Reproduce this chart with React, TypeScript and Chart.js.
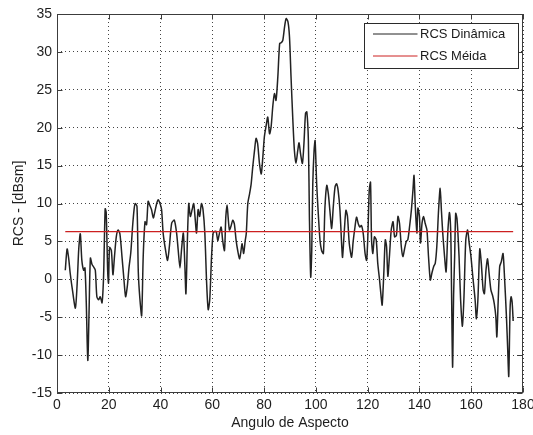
import React, { useEffect, useRef } from "react";
import { Chart, registerables } from "chart.js";

Chart.register(...registerables);

// Aspect angle (degrees) and dynamic RCS (dBsm)
const angles = [
  3.2, 3.9, 4.5, 5.1, 6.0, 7.1, 7.8, 8.4, 9.0, 9.6, 10.3, 10.8, 11.3, 11.9, 12.4, 12.9, 13.5, 14.2, 14.8, 15.4,
  16.1, 16.7, 17.4, 18.0, 18.6, 19.0, 19.6, 19.9, 20.3, 21.0, 21.6, 22.2, 22.9, 23.6, 24.3, 25.1, 25.8, 26.5, 27.2, 27.8,
  28.5, 29.2, 29.8, 30.2, 30.9, 31.4, 32.0, 32.7, 33.3, 34.0, 34.6, 35.2, 35.8, 36.5, 37.2, 37.8, 38.5, 39.1, 39.8, 40.4,
  41.0, 41.9, 42.7, 43.4, 44.3, 45.3, 46.2, 46.8, 47.5, 48.1, 48.8, 49.4, 49.8, 50.4, 50.9, 51.5, 52.2, 52.8, 53.3, 53.9,
  54.5, 55.1, 55.8, 56.4, 57.1, 57.8, 58.4, 59.0, 59.7, 60.3, 60.9, 61.5, 62.1, 62.7, 63.4, 64.0, 64.7, 65.2, 65.7, 66.1,
  66.6, 67.2, 67.9, 68.5, 69.2, 69.8, 70.5, 71.0, 71.5, 72.1, 72.7, 73.1, 73.7, 74.4, 75.0, 75.6, 76.3, 76.9, 77.5, 78.2,
  78.9, 79.5, 80.1, 80.8, 81.4, 82.1, 82.7, 83.4, 84.0, 84.6, 85.3, 86.0, 86.6, 87.2, 87.9, 88.5, 89.2, 89.8, 90.4, 91.1,
  91.7, 92.3, 93.0, 93.5, 94.1, 94.8, 95.4, 96.0, 96.5, 97.1, 97.5, 98.0, 98.4, 98.8, 99.3, 99.7, 100.3, 101.0, 101.6, 102.2,
  102.9, 103.5, 104.2, 104.8, 105.4, 106.1, 106.7, 107.4, 108.0, 108.6, 109.3, 110.0, 110.3, 111.0, 111.6, 112.2, 112.9, 113.8, 114.4, 115.1,
  115.7, 116.4, 117.0, 117.6, 118.3, 119.0, 119.6, 120.1, 120.6, 121.1, 121.5, 122.0, 122.6, 123.3, 123.9, 124.6, 125.2, 125.6, 126.2, 126.8,
  127.3, 127.8, 128.4, 129.1, 129.8, 130.4, 131.1, 131.7, 132.3, 133.0, 133.6, 134.2, 134.9, 135.5, 136.2, 136.9, 137.5, 137.9, 138.4, 139.0,
  139.4, 140.0, 140.4, 141.0, 141.6, 142.2, 142.9, 143.5, 144.2, 144.8, 145.5, 146.1, 146.7, 147.4, 148.0, 148.5, 149.0, 149.7, 150.3, 151.0,
  151.6, 152.1, 152.4, 152.8, 153.2, 153.6, 154.0, 154.5, 155.3, 155.9, 156.6, 157.2, 157.9, 158.6, 159.2, 159.9, 160.6, 161.5, 162.0, 162.6,
  163.3, 163.9, 164.6, 165.1, 165.7, 166.3, 166.9, 167.6, 168.3, 168.9, 169.5, 169.9, 170.4, 171.0, 171.6, 172.3, 172.9, 173.6, 174.1, 174.5,
  175.0, 175.4, 175.8, 176.2,
];

const rcsDinamica = [
  1.2, 4.0, 2.8, 0.8, -1.5, -3.8, -0.5, 4.0, 6.0, 2.5, 1.2, 1.5, -3.0, -10.7, -4.0, 2.8, 2.0, 1.6, 1.2, -2.3,
  -2.7, -2.3, -3.1, 0.5, 9.3, 8.8, 0.8, -0.5, 4.2, 3.8, 0.6, 3.0, 5.6, 6.5, 6.0, 3.0, 0.2, -2.3, -0.8, 1.5,
  3.5, 7.0, 9.3, 10.0, 9.6, 1.0, -2.5, -4.8, 3.0, 7.6, 7.2, 10.3, 9.8, 9.2, 8.1, 8.9, 10.0, 10.5, 10.0, 9.2,
  6.1, 3.9, 2.5, 4.3, 7.4, 7.8, 6.1, 3.9, 1.5, 3.9, 6.1, 1.7, -1.9, 5.6, 10.0, 8.3, 9.2, 10.0, 8.3, 6.1,
  9.2, 8.3, 10.0, 9.2, 6.1, -0.5, -4.0, -2.7, 3.0, 6.1, 6.3, 6.3, 5.1, 6.0, 6.9, 5.1, 3.8, 8.2, 9.8, 8.2,
  6.5, 7.0, 7.8, 7.3, 5.1, 3.8, 2.7, 3.6, 4.7, 3.4, 5.1, 6.0, 10.0, 11.3, 12.6, 14.8, 17.0, 18.6, 17.9, 15.3,
  13.9, 16.1, 18.8, 20.3, 21.4, 19.2, 20.1, 23.0, 24.5, 23.6, 26.7, 31.1, 31.2, 31.5, 33.3, 34.4, 34.0, 32.0, 26.7, 21.0,
  17.0, 15.3, 17.0, 18.0, 16.5, 15.3, 18.0, 21.9, 22.1, 18.3, 8.2, 0.3, 3.8, 12.6, 17.0, 18.3, 12.6, 8.2, 5.1, 3.8,
  3.4, 9.5, 12.4, 11.3, 9.1, 6.7, 9.5, 12.2, 12.6, 11.7, 9.1, 4.3, 2.9, 6.5, 9.1, 8.3, 4.7, 2.9, 5.0, 6.9,
  8.2, 7.3, 6.9, 7.1, 6.0, 3.4, 2.5, 6.0, 11.7, 12.8, 5.2, 3.4, 5.6, 5.2, 2.1, -0.1, -2.3, -3.4, 0.5, 5.2,
  4.3, 0.4, 3.0, 6.5, 7.6, 5.6, 5.8, 8.3, 7.4, 4.3, 3.0, 3.9, 5.0, 5.2, 7.0, 9.2, 11.8, 13.7, 9.6, 6.1,
  9.4, 8.3, 4.8, 7.4, 8.3, 7.4, 6.5, 3.0, -0.1, 0.8, 1.7, 2.1, 4.3, 9.2, 12.0, 9.0, 6.1, 3.0, 1.0, 6.5,
  8.8, 6.0, -1.4, -11.6, -2.0, 3.0, 8.7, 8.0, 3.0, -2.7, -6.2, -2.3, 5.2, 6.5, 4.8, 3.0, 0.4, -2.7, -5.2, -2.5,
  4.0, 2.1, -1.4, -1.9, 1.2, 2.7, 0.8, -1.4, -2.2, -3.2, -4.9, -7.6, -3.0, 1.7, 2.3, 3.4, 0.0, -4.9, -9.3, -12.8,
  -4.0, -2.3, -3.0, -5.5,
];

// Mean RCS level (dBsm)
const rcsMedia = 6.3;

const seriesLabels = ["RCS Dinâmica", "RCS Méida"];
const xTitle = "Angulo de Aspecto";
const yTitle = "RCS - [dBsm]";

const FONT = "'Liberation Sans', Arial, Helvetica, sans-serif";
const BLACK_LINE = "#222222";
const RED_LINE = "#cc2020";

// Box around the axes, inward tick marks and a boxed legend in the upper right
const axesDecor = {
  id: "axesDecor",
  afterDraw(chart: any) {
    const { ctx, chartArea, scales } = chart;
    const { left, right, top, bottom } = chartArea;
    const xs = scales.x;
    const ys = scales.y;
    ctx.save();
    ctx.strokeStyle = "#3c3c3c";
    ctx.lineWidth = 1;
    const l = Math.round(left) + 0.5;
    const r = Math.round(right) - 0.5;
    const t = Math.round(top) + 0.5;
    const b = Math.round(bottom) - 0.5;
    ctx.strokeRect(l, t, r - l, b - t);
    ctx.beginPath();
    const tl = 5;
    for (const tk of xs.ticks) {
      const px = Math.round(xs.getPixelForValue(tk.value)) + 0.5;
      ctx.moveTo(px, b);
      ctx.lineTo(px, b - tl);
      ctx.moveTo(px, t);
      ctx.lineTo(px, t + tl);
    }
    for (const tk of ys.ticks) {
      const py = Math.round(ys.getPixelForValue(tk.value)) + 0.5;
      ctx.moveTo(l, py);
      ctx.lineTo(l + tl, py);
      ctx.moveTo(r, py);
      ctx.lineTo(r - tl, py);
    }
    ctx.stroke();

    // legend
    const bw = 154;
    const bh = 45;
    const bx = Math.round(right) - 5 - bw + 0.5;
    const by = Math.round(top) + 9 + 0.5;
    ctx.fillStyle = "#ffffff";
    ctx.fillRect(bx, by, bw, bh);
    ctx.strokeStyle = "#2a2a2a";
    ctx.strokeRect(bx, by, bw, bh);
    const entries = [
      { text: seriesLabels[0], color: BLACK_LINE, dy: 10.5 },
      { text: seriesLabels[1], color: RED_LINE, dy: 32.5 },
    ];
    ctx.font = `13px ${FONT}`;
    ctx.textBaseline = "middle";
    ctx.textAlign = "left";
    for (const e of entries) {
      const ly = by + e.dy;
      ctx.beginPath();
      ctx.strokeStyle = e.color;
      ctx.lineWidth = 1;
      ctx.moveTo(bx + 8.5, ly);
      ctx.lineTo(bx + 53, ly);
      ctx.stroke();
      ctx.fillStyle = "#1a1a1a";
      ctx.fillText(e.text, bx + 55.5, ly + 0.5);
    }
    ctx.restore();
  },
};

export default function App() {
  const canvasRef = useRef<HTMLCanvasElement | null>(null);

  useEffect(() => {
    const canvas = canvasRef.current;
    if (!canvas) return;

    const dynPoints = angles.map((a, i) => ({ x: a, y: rcsDinamica[i] }));
    const meanPoints = [
      { x: angles[0], y: rcsMedia },
      { x: angles[angles.length - 1], y: rcsMedia },
    ];

    const gridCommon = {
      color: "#444444",
      lineWidth: 1,
      drawTicks: false,
    };

    const chart = new Chart(canvas, {
      type: "line",
      data: {
        datasets: [
          {
            label: seriesLabels[1],
            data: meanPoints,
            borderColor: RED_LINE,
            borderWidth: 1.3,
            pointRadius: 0,
            tension: 0,
            order: 0,
          },
          {
            label: seriesLabels[0],
            data: dynPoints,
            borderColor: BLACK_LINE,
            borderWidth: 1.5,
            pointRadius: 0,
            tension: 0.25,
            order: 1,
          },
        ],
      },
      options: {
        animation: false,
        responsive: true,
        maintainAspectRatio: false,
        devicePixelRatio: 1,
        layout: { padding: { top: 14, right: 10, left: 0, bottom: 0 } },
        plugins: {
          legend: { display: false },
          tooltip: { enabled: false },
        },
        scales: {
          x: {
            type: "linear",
            min: 0,
            max: 180,
            ticks: {
              stepSize: 20,
              padding: 4,
              color: "#1e1e1e",
              font: { family: FONT, size: 14 },
              maxRotation: 0,
            },
            grid: { ...gridCommon },
            border: { display: false, dash: [1, 3] },
            title: {
              display: true,
              text: xTitle,
              color: "#1e1e1e",
              font: { family: FONT, size: 14 },
              padding: { top: 0, bottom: 3 },
            },
            afterFit(scale: any) {
              scale.height = 42;
              scale.paddingLeft = 0;
              scale.paddingRight = 0;
            },
          },
          y: {
            type: "linear",
            min: -15,
            max: 35,
            ticks: {
              stepSize: 5,
              padding: 5,
              color: "#1e1e1e",
              font: { family: FONT, size: 14 },
            },
            grid: { ...gridCommon },
            border: { display: false, dash: [1, 3] },
            title: {
              display: true,
              text: yTitle,
              color: "#1e1e1e",
              font: { family: FONT, size: 14 },
              padding: { top: 11, bottom: 0 },
            },
            afterFit(scale: any) {
              scale.width = 57;
              scale.paddingTop = 0;
              scale.paddingBottom = 0;
            },
          },
        },
      },
      plugins: [axesDecor],
    });

    return () => chart.destroy();
  }, []);

  return (
    <div
      style={{
        position: "absolute",
        left: 0,
        top: 0,
        width: 533,
        height: 435,
        background: "#ffffff",
      }}
    >
      <canvas ref={canvasRef} />
    </div>
  );
}
